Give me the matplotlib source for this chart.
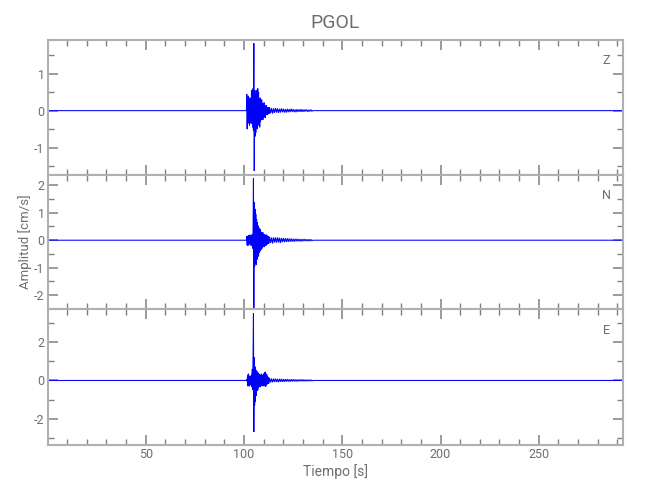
import numpy as np
import matplotlib
matplotlib.use("Agg")
import matplotlib.pyplot as plt
from matplotlib.ticker import MultipleLocator, FuncFormatter

# ---------------- data ----------------
station = "PGOL"
components = ["Z", "N", "E"]
xlabel = "Tiempo [s]"
ylabel = "Amplitud [cm/s]"

t_start = 0.0
t_end = 293.0
onset = 101.4        # first sample of the strong-motion part [s]
dt_fast = 0.2        # spacing of the read extrema in the strong part [s]
t_slow = 113.0       # start of the coda part [s]
dt_slow = 0.5        # spacing of the read extrema in the coda [s]

z_fast = [0.45, -0.50, 0.30, -0.35, 0.40, -0.30, 0.25, -0.40, 0.35, -0.28,
          0.30, -0.35, 0.55, -0.30, 0.50, -0.45, 0.60, -0.55, 1.82, -1.63,
          0.55, -0.70, 0.45, -0.60, 0.55, -0.45, 0.40, -0.50, 0.60, -0.40,
          0.50, -0.35, 0.30, -0.45, 0.35, -0.30, 0.28, -0.25, 0.30, -0.22,
          0.20, -0.25, 0.18, -0.18, 0.22, -0.15, 0.15, -0.20, 0.12, -0.12,
          0.15, -0.10, 0.10, -0.12, 0.09, -0.08, 0.10, -0.08]
z_slow = [0.08, -0.07, 0.07, -0.08, 0.06, -0.06, 0.07, -0.05, 0.06, -0.06,
          0.05, -0.05, 0.06, -0.04, 0.05, -0.05, 0.04, -0.05, 0.05, -0.04,
          0.04, -0.04, 0.05, -0.03, 0.04, -0.04, 0.03, -0.04, 0.04, -0.03,
          0.03, -0.03, 0.04, -0.03, 0.03, -0.03, 0.03, -0.02, 0.03, -0.03,
          0.02, -0.02, 0.03, -0.02]

n_fast = [0.15, -0.18, 0.12, -0.20, 0.18, -0.12, 0.15, -0.15, 0.20, -0.10,
          0.12, -0.20, 0.18, -0.15, 0.22, -0.30, 0.40, 2.25, -2.46, 1.39,
          -0.95, 1.14, -0.85, 0.95, -0.89, 0.77, -0.70, 0.65, -0.60, 0.53,
          -0.58, 0.45, -0.45, 0.40, -0.40, 0.38, -0.35, 0.30, -0.32, 0.28,
          -0.27, 0.28, -0.22, 0.20, -0.25, 0.22, -0.18, 0.20, -0.20, 0.15,
          -0.18, 0.20, -0.15, 0.15, -0.12, 0.14, -0.12, 0.10]
n_slow = [0.12, -0.10, 0.10, -0.12, 0.10, -0.08, 0.10, -0.09, 0.10, -0.08,
          0.09, -0.10, 0.08, -0.07, 0.08, -0.07, 0.07, -0.06, 0.07, -0.06,
          0.06, -0.05, 0.06, -0.05, 0.05, -0.05, 0.05, -0.04, 0.05, -0.04,
          0.04, -0.04, 0.04, -0.04, 0.04, -0.03, 0.04, -0.03, 0.03, -0.03,
          0.03, -0.03, 0.03, -0.02]

e_fast = [0.05, -0.05, 0.25, -0.30, 0.35, -0.25, 0.20, -0.30, 0.25, -0.20,
          0.15, -0.25, 0.30, -0.35, 0.60, -0.50, 1.33, 3.51, -2.69, 1.20,
          -1.29, 0.72, -1.10, 0.55, -0.80, 0.50, -0.55, 0.45, -0.50, 0.40,
          -0.35, 0.35, -0.30, 0.30, -0.35, 0.25, -0.30, 0.35, -0.25, 0.30,
          -0.28, 0.25, -0.30, 0.35, -0.25, 0.40, -0.30, 0.45, -0.33, 0.35,
          -0.25, 0.30, -0.20, 0.20, -0.18, 0.15, -0.15, 0.12]
e_slow = [0.12, -0.10, 0.10, -0.10, 0.09, -0.08, 0.10, -0.08, 0.08, -0.09,
          0.08, -0.07, 0.08, -0.07, 0.07, -0.07, 0.07, -0.06, 0.07, -0.06,
          0.06, -0.06, 0.06, -0.05, 0.06, -0.05, 0.05, -0.05, 0.05, -0.05,
          0.05, -0.04, 0.05, -0.04, 0.05, -0.04, 0.04, -0.04, 0.04, -0.04,
          0.04, -0.03, 0.04, -0.03]

traces = {"Z": (z_fast, z_slow), "N": (n_fast, n_slow), "E": (e_fast, e_slow)}

ylims = {"Z": (-1.74, 1.91), "N": (-2.50, 2.37), "E": (-3.37, 3.73)}
ymajor = {"Z": 1, "N": 1, "E": 2}
yminor = {"Z": 0.5, "N": 0.5, "E": 1}
x_major = 50
x_minor = 10


def build(fast, slow):
    tf = onset + dt_fast * np.arange(len(fast))
    ts = t_slow + dt_slow * np.arange(len(slow))
    t = np.concatenate([[t_start, onset - dt_fast], tf, ts, [ts[-1] + dt_slow, t_end]])
    v = np.concatenate([[0.0, 0.0], fast, slow, [0.0, 0.0]])
    return t, v


def xfmt(x, pos):
    return "" if abs(x) < 1e-9 else f"{x:g}"


def yfmt(y, pos):
    return f"{y:g}"


# ---------------- style ----------------
plt.rcParams['font.family'] = ['Roboto', 'DejaVu Sans']
text_col = '#6e6e6e'
spine_col = '#b0b0b0'
tick_col = '#808080'
line_col = '#0000ff'

fig = plt.figure(figsize=(6.5, 5.0), dpi=100)
left, right = 47.5 / 650, 623.3 / 650
edges = [40, 175, 309, 445]

axes = []
for i, comp in enumerate(components):
    top = 1 - edges[i] / 500
    bot = 1 - edges[i + 1] / 500
    ax = fig.add_axes([left, bot, right - left, top - bot])
    axes.append(ax)
    t, v = build(*traces[comp])
    ax.plot(t, v, color=line_col, lw=0.75, solid_joinstyle='miter')
    ax.set_xlim(t_start, t_end)
    ax.set_ylim(*ylims[comp])
    ax.xaxis.set_major_locator(MultipleLocator(x_major))
    ax.xaxis.set_minor_locator(MultipleLocator(x_minor))
    ax.xaxis.set_major_formatter(FuncFormatter(xfmt))
    ax.yaxis.set_major_locator(MultipleLocator(ymajor[comp]))
    ax.yaxis.set_minor_locator(MultipleLocator(yminor[comp]))
    ax.yaxis.set_major_formatter(FuncFormatter(yfmt))
    ax.tick_params(which='both', direction='in', top=True, right=True,
                   color=tick_col, labelcolor=text_col, labelsize=9, pad=2)
    ax.tick_params(which='major', length=7, width=1.1)
    ax.tick_params(which='minor', length=4, width=1.0)
    for s in ax.spines.values():
        s.set_color(spine_col)
        s.set_linewidth(1.5)
    ax.text(1 - 17 / 575.8, 1 - 21 / 135, comp, transform=ax.transAxes,
            ha='center', va='center', fontsize=9, color=text_col)
    if i < 2:
        ax.tick_params(labelbottom=False)

axes[0].set_title(station, fontsize=14, color=text_col, pad=9)
axes[2].set_xlabel(xlabel, fontsize=10, color=text_col, labelpad=2)
fig.text(25 / 650, 1 - 242 / 500, ylabel, rotation=90, ha='center', va='center',
         fontsize=9.5, color=text_col)

fig.savefig("out.png", dpi=100)
